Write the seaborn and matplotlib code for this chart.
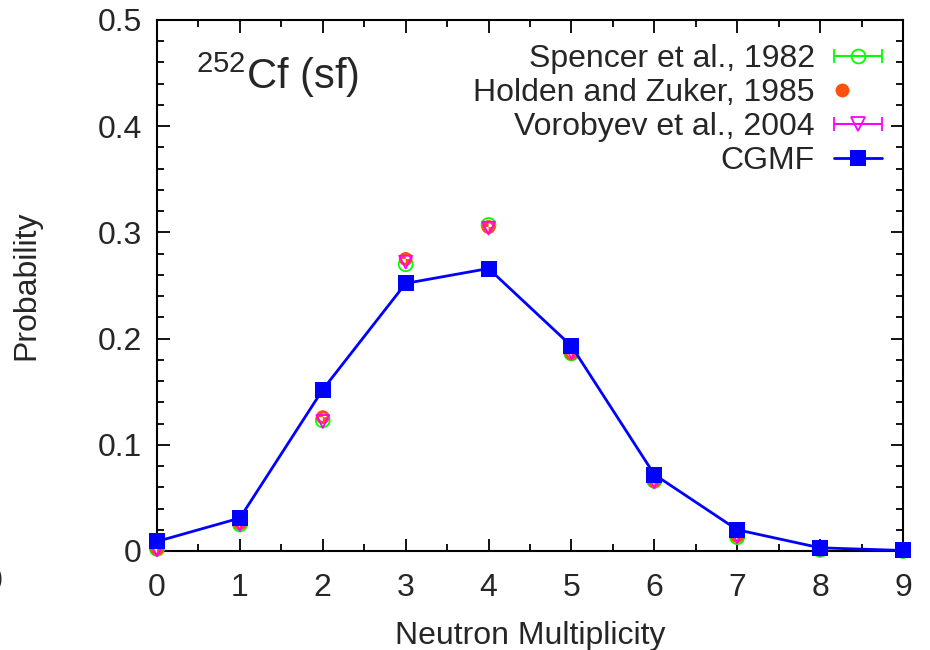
import numpy as np
import pandas as pd
import matplotlib
matplotlib.use("Agg")
import matplotlib.pyplot as plt
import seaborn as sns
from matplotlib.ticker import MultipleLocator, FuncFormatter
from matplotlib.lines import Line2D
from matplotlib.legend_handler import HandlerTuple, HandlerErrorbar
from matplotlib.container import ErrorbarContainer

multiplicity = [0, 1, 2, 3, 4, 5, 6, 7, 8, 9]
spencer = [0.002, 0.025, 0.123, 0.270, 0.307, 0.186, 0.066, 0.013, 0.001, 0.000]
holden = [0.002, 0.026, 0.126, 0.275, 0.305, 0.186, 0.066, 0.014, 0.002, 0.000]
vorobyev = [0.001, 0.025, 0.122, 0.272, 0.304, 0.187, 0.065, 0.014, 0.001, 0.000]
cgmf = [0.009, 0.031, 0.152, 0.252, 0.266, 0.193, 0.072, 0.020, 0.003, 0.0005]

labels = ["Spencer et al., 1982", "Holden and Zuker, 1985", "Vorobyev et al., 2004", "CGMF"]

sns.set_theme(style="ticks")
plt.rcParams["font.family"] = ["Liberation Sans", "DejaVu Sans"]
plt.rcParams["mathtext.default"] = "regular"

fig = plt.figure(figsize=(9.3, 6.5), dpi=100)
ax = fig.add_axes([157/930, 1-551/650, (903-157)/930, (551-20)/650])

df = pd.DataFrame({"n": multiplicity, "spencer": spencer, "holden": holden,
                   "vorobyev": vorobyev, "cgmf": cgmf})

# Holden marker: white quadrants (top-right, bottom-left) over an orange circle
t1 = np.linspace(0, np.pi / 2, 12)
t2 = np.linspace(np.pi, 1.5 * np.pi, 12)
quad_a = [(0, 0)] + [(np.cos(t), np.sin(t)) for t in t1] + [(0, 0)]
quad_b = [(0, 0)] + [(np.cos(t), np.sin(t)) for t in t2] + [(0, 0)]

sns.scatterplot(data=df, x="n", y="spencer", ax=ax, marker="o", s=100,
                facecolor="none", edgecolor="#00ff00", linewidth=1.3, clip_on=False, zorder=3)
sns.scatterplot(data=df, x="n", y="holden", ax=ax, marker="o", s=100,
                color="#ff5010", edgecolor="none", linewidth=0, clip_on=False, zorder=4)
for qv in (quad_a, quad_b):
    sns.scatterplot(data=df, x="n", y="holden", ax=ax, marker=qv, s=30,
                    color="white", edgecolor="none", linewidth=0, clip_on=False, zorder=4.5)
sns.scatterplot(data=df, x="n", y="vorobyev", ax=ax, marker="v", s=85,
                facecolor="none", edgecolor="#ff00ff", linewidth=1.3, clip_on=False, zorder=5)
sns.lineplot(data=df, x="n", y="cgmf", ax=ax, color="#0000ff", linewidth=2,
             marker="s", markersize=12, markeredgewidth=0, clip_on=False, zorder=6)

ax.set_xlim(0, 9)
ax.set_ylim(0, 0.5)
ax.xaxis.set_major_locator(MultipleLocator(1))
ax.xaxis.set_minor_locator(MultipleLocator(0.5))
ax.yaxis.set_major_locator(MultipleLocator(0.1))
ax.yaxis.set_minor_locator(MultipleLocator(0.02))
ax.yaxis.set_major_formatter(FuncFormatter(lambda v, p: "0" if abs(v) < 1e-9 else f"{v:.1f}"))
ax.tick_params(which="both", direction="in", top=True, right=True, labelsize=23, color="black")
ax.tick_params(axis="x", which="major", pad=16)
ax.tick_params(axis="y", which="major", pad=11)
ax.tick_params(which="major", length=9, width=1.3)
ax.tick_params(which="minor", length=5, width=1.3)
for s in ax.spines.values():
    s.set_linewidth(1.5)
    s.set_color("black")
    s.set_zorder(2)

ax.set_xlabel("Neutron Multiplicity", fontsize=23, labelpad=13)
ax.set_ylabel("Probability", fontsize=23, labelpad=40)

ax.text(0.052, 0.895, "$^{252}$Cf (sf)", transform=ax.transAxes, fontsize=30, va="center", ha="left")

# legend handles
h_sp = ax.errorbar([np.nan], [np.nan], xerr=[1], fmt="o", color="#00ff00", mfc="none",
                   mec="#00ff00", ms=10, mew=1.3, capsize=5, elinewidth=1.5)
h_ho1 = Line2D([], [], linestyle="none", marker="o", color="#ff5010", ms=10, mew=0)
h_ho2 = Line2D([], [], linestyle="none", marker=quad_a, color="white", ms=7, mew=0)
h_ho3 = Line2D([], [], linestyle="none", marker=quad_b, color="white", ms=7, mew=0)
h_vo = ax.errorbar([np.nan], [np.nan], xerr=[1], fmt="v", color="#ff00ff", mfc="none",
                   mec="#ff00ff", ms=10, mew=1.3, capsize=5, elinewidth=1.5)
h_cg = Line2D([], [], color="#0000ff", lw=2, marker="s", ms=12, mew=0)
ax.legend([h_sp, (h_ho1, h_ho2, h_ho3), h_vo, h_cg], labels, loc="upper right", frameon=False,
          fontsize=23, markerfirst=False, handlelength=1.5, labelspacing=0.12,
          borderaxespad=0.0, bbox_to_anchor=(0.989, 0.978), handletextpad=0.6,
          handler_map={tuple: HandlerTuple(ndivide=None, pad=0),
                       ErrorbarContainer: HandlerErrorbar(xerr_size=0.75)})

fig.text(3/930, 1-582/650, "0", fontsize=23, ha="right", va="center")

fig.savefig("out.png", dpi=100)
